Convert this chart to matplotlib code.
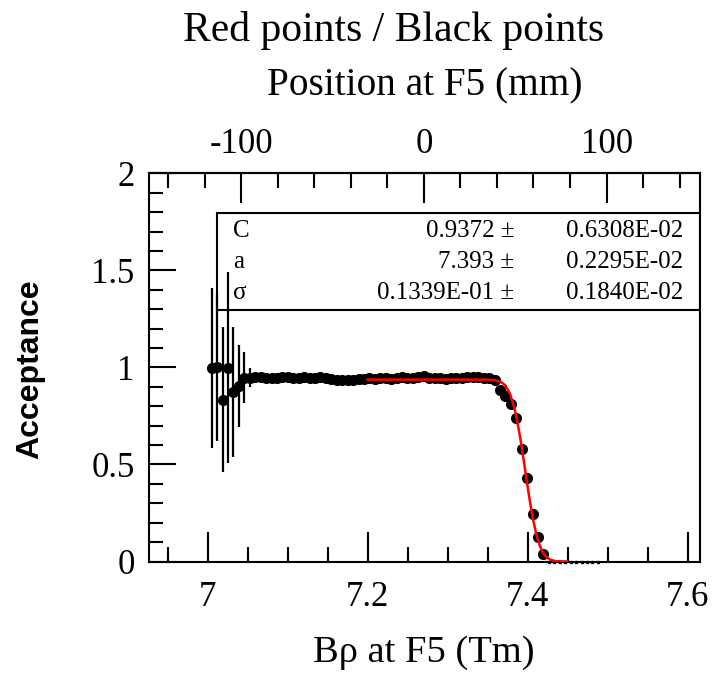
import matplotlib
matplotlib.use('Agg')
import matplotlib.pyplot as plt
from matplotlib.ticker import MultipleLocator, FixedLocator, FuncFormatter
from matplotlib.patches import Rectangle

plt.rcParams['font.family'] = ['Liberation Serif', 'DejaVu Serif']
plt.rcParams['axes.unicode_minus'] = False

# Measured acceptance vs Brho at F5 (Tm)
brho = [7.0050, 7.0118, 7.0186, 7.0254, 7.0322, 7.0390, 7.0458, 7.0526,
        7.0594, 7.0662, 7.0730, 7.0798, 7.0866, 7.0934, 7.1002, 7.1070,
        7.1138, 7.1206, 7.1274, 7.1342, 7.1410, 7.1478, 7.1546, 7.1614,
        7.1682, 7.1750, 7.1818, 7.1886, 7.1954, 7.2022, 7.2090, 7.2158,
        7.2226, 7.2294, 7.2362, 7.2430, 7.2498, 7.2566, 7.2634, 7.2702,
        7.2770, 7.2838, 7.2906, 7.2974, 7.3042, 7.3110, 7.3178, 7.3246,
        7.3314, 7.3382, 7.3450, 7.3518, 7.3586, 7.3654, 7.3722, 7.3790,
        7.3858, 7.3926, 7.3994, 7.4062, 7.4130, 7.4198]
acceptance = [0.997, 1.000, 0.834, 0.999, 0.874, 0.904, 0.946, 0.947,
              0.950, 0.952, 0.948, 0.944, 0.947, 0.951, 0.953, 0.948,
              0.945, 0.949, 0.944, 0.946, 0.950, 0.943, 0.938, 0.934,
              0.936, 0.933, 0.937, 0.941, 0.938, 0.944, 0.941, 0.947,
              0.944, 0.940, 0.946, 0.949, 0.943, 0.947, 0.952, 0.954,
              0.948, 0.944, 0.946, 0.941, 0.943, 0.947, 0.944, 0.949,
              0.953, 0.951, 0.947, 0.944, 0.935, 0.885, 0.855, 0.812,
              0.737, 0.582, 0.428, 0.244, 0.124, 0.041]
acceptance_err = [0.412, 0.380, 0.375, 0.494, 0.335, 0.210, 0.131, 0.050,
                  0.020, 0.015, 0.012, 0.012, 0.012, 0.012, 0.012, 0.012,
                  0.012, 0.012, 0.012, 0.012, 0.012, 0.012, 0.012, 0.012,
                  0.012, 0.012, 0.012, 0.012, 0.012, 0.012, 0.012, 0.012,
                  0.012, 0.012, 0.012, 0.012, 0.012, 0.012, 0.012, 0.012,
                  0.012, 0.012, 0.012, 0.012, 0.012, 0.012, 0.012, 0.012,
                  0.012, 0.012, 0.012, 0.012, 0.012, 0.012, 0.012, 0.012,
                  0.012, 0.012, 0.012, 0.012, 0.010, 0.008]

# Empty bins past the edge
brho_empty = [7.4266, 7.4334, 7.4402, 7.4470, 7.4538, 7.4606, 7.4674,
              7.4742, 7.4810, 7.4878]
acceptance_empty = [0, 0, 0, 0, 0, 0, 0, 0, 0, 0]

# Fitted curve (fit range 7.2 - 7.45 Tm)
fit_brho = [7.200, 7.350, 7.360, 7.366, 7.372, 7.378, 7.383, 7.387, 7.391,
            7.395, 7.399, 7.403, 7.407, 7.411, 7.415, 7.419, 7.423, 7.428,
            7.435, 7.449]
fit_acc = [0.937, 0.937, 0.934, 0.927, 0.908, 0.864, 0.799, 0.724, 0.631,
           0.525, 0.412, 0.306, 0.213, 0.138, 0.084, 0.047, 0.025, 0.010,
           0.002, 0.000]

# Fit results
par_names = ['C', 'a', 'σ']
par_values = ['0.9372', '7.393', '0.1339E-01']
par_errors = ['0.6308E-02', '0.2295E-02', '0.1840E-02']

# Position at F5 (mm) <-> Brho (Tm), for the top axis
BRHO_AT_0MM = 7.2703
TM_PER_MM = 0.002284
pos_ticks = [-100, 0, 100]
pos_minor = [-140, -120, -80, -60, -40, -20, 20, 40, 60, 80, 120, 140]


def to_mm(b):
    return (b - BRHO_AT_0MM) / TM_PER_MM


def to_brho(mm):
    return mm * TM_PER_MM + BRHO_AT_0MM


fig = plt.figure(figsize=(7.15, 6.78), dpi=100)
ax = fig.add_axes([0.2077, 0.1718, 0.7713, 0.5726])

ax.errorbar(brho, acceptance, yerr=acceptance_err, fmt='o', color='black',
            ms=7, elinewidth=1.6, capsize=0, zorder=3)
ax.plot(brho_empty, acceptance_empty, 's', color='black', ms=1.6,
        zorder=3, clip_on=False)
ax.plot(fit_brho, fit_acc, color='#ff0000', lw=1.8, zorder=4)

ax.set_xlim(6.926, 7.6155)
ax.set_ylim(0, 2)

fmt = FuncFormatter(lambda v, p: f'{v:g}')
ax.xaxis.set_major_locator(MultipleLocator(0.2))
ax.xaxis.set_minor_locator(MultipleLocator(0.05))
ax.yaxis.set_major_locator(MultipleLocator(0.5))
ax.yaxis.set_minor_locator(MultipleLocator(0.1))
ax.xaxis.set_major_formatter(fmt)
ax.yaxis.set_major_formatter(fmt)

ax.tick_params(axis='x', which='major', direction='in', length=21.6, width=1.5,
               labelsize=25, pad=14, top=False)
ax.tick_params(axis='x', which='minor', direction='in', length=10.8, width=1.5,
               top=False)
ax.tick_params(axis='y', which='major', direction='in', length=19.4, width=1.5,
               labelsize=25, pad=10, right=False)
ax.tick_params(axis='y', which='minor', direction='in', length=10, width=1.5,
               right=False)
for s in ax.spines.values():
    s.set_linewidth(1.5)

# top axis: position at F5
top = ax.secondary_xaxis('top', functions=(to_mm, to_brho))
top.xaxis.set_major_locator(FixedLocator(pos_ticks))
top.xaxis.set_minor_locator(FixedLocator(pos_minor))
top.xaxis.set_major_formatter(fmt)
top.tick_params(which='major', direction='in', length=21.6, width=1.5,
                labelsize=25, pad=9)
top.tick_params(which='minor', direction='in', length=10.8, width=1.5)
top.spines['top'].set_linewidth(1.5)

# stats box
ax.add_patch(Rectangle((0.1238, 0.648), 0.8762, 0.2505, transform=ax.transAxes,
                       facecolor='white', edgecolor='black', lw=1.5, zorder=2.5))
for i in range(len(par_names)):
    y = 0.8514 - i * 0.0799
    ax.text(0.153, y, par_names[i], transform=ax.transAxes, ha='left',
            va='center', fontsize=18, zorder=5)
    ax.text(0.663, y, par_values[i] + ' ±', transform=ax.transAxes, ha='right',
            va='center', fontsize=18, zorder=5)
    ax.text(0.969, y, par_errors[i], transform=ax.transAxes, ha='right',
            va='center', fontsize=18, zorder=5)

fig.text(393.5 / 715, 1 - 30 / 678, 'Red points / Black points', ha='center',
         va='center', fontsize=30)
fig.text(425 / 715, 1 - 86 / 678, 'Position at F5 (mm)', ha='center',
         va='center', fontsize=28.3)
fig.text(424 / 715, 1 - 653 / 678, 'Bρ at F5 (Tm)', ha='center',
         va='center', fontsize=27.7)
fig.text(30 / 715, 1 - 369 / 678, 'Acceptance', ha='center', va='center',
         rotation=90, fontsize=23, fontweight='bold',
         family=['Liberation Sans', 'DejaVu Sans'])

fig.savefig('out.png', dpi=100)
